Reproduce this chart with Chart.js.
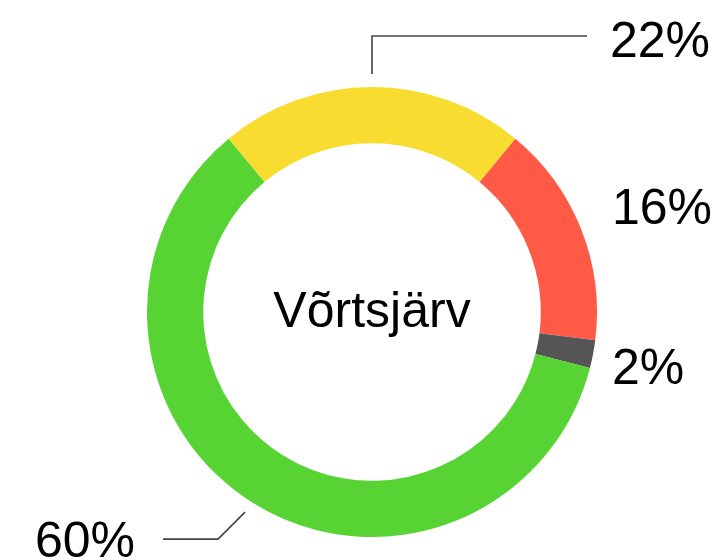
<!DOCTYPE html>
<html>
<head>
<meta charset="utf-8">
<script src="https://cdn.jsdelivr.net/npm/chart.js@4.4.1/dist/chart.umd.min.js"></script>
<style>
  html, body { margin: 0; padding: 0; background: #fff; }
  #wrap { width: 717px; height: 560px; }
</style>
</head>
<body>
<div id="wrap"><canvas id="donut" width="717" height="560"></canvas></div>
<script>
// Chart data
const centerTitle = 'Võrtsjärv';
const sliceLabels = ['22%', '16%', '2%', '60%'];
const sliceValues = [22, 16, 2, 60];
const sliceColors = ['#F8DC2F', '#FF5A45', '#555555', '#57D433'];

const labelFont = '50px "Liberation Sans", Arial, Helvetica, sans-serif';
const leaderColor = '#444444';

// draws the title in the hole and the percent labels around the ring
const ringLabels = {
    id: 'ringLabels',
    afterDraw(chart) {
        const ctx = chart.ctx;
        const meta = chart.getDatasetMeta(0);
        const first = meta.data[0];
        const cx = first.x, cy = first.y, R = first.outerRadius;

        ctx.save();
        ctx.fillStyle = '#000';
        ctx.font = labelFont;
        ctx.textAlign = 'center';
        ctx.textBaseline = 'alphabetic';
        ctx.fillText(centerTitle, cx, cy + 15);

        ctx.strokeStyle = leaderColor;
        ctx.lineWidth = 1.6;

        meta.data.forEach((arc, i) => {
            const mid = (arc.startAngle + arc.endAngle) / 2;
            const cos = Math.cos(mid), sin = Math.sin(mid);
            const text = sliceLabels[i];

            if (sin < -0.9) {
                // top: elbow up, then right
                const ax = cx + (R + 13) * cos, ay = cy + (R + 13) * sin;
                const ly = cy - R - 51;
                ctx.beginPath();
                ctx.moveTo(ax, ay);
                ctx.lineTo(ax, ly);
                ctx.lineTo(cx + R - 10, ly);
                ctx.stroke();
                ctx.textAlign = 'left';
                ctx.fillText(text, cx + R + 13, ly + 21);
            } else if (cos < 0 && sin > 0) {
                // lower left: diagonal, then left
                const ax = cx + (R + 12) * cos, ay = cy + (R + 12) * sin;
                const ex = ax - 27, ey = ay + 27;
                ctx.beginPath();
                ctx.moveTo(ax, ay);
                ctx.lineTo(ex, ey);
                ctx.lineTo(ex - 55, ey);
                ctx.stroke();
                ctx.textAlign = 'right';
                ctx.fillText(text, ex - 83, ey + 18);
            } else {
                // right side: plain text
                ctx.textAlign = 'left';
                ctx.fillText(text, cx + R + 15, cy + 287 * sin + 18);
            }
        });
        ctx.restore();
    }
};

new Chart(document.getElementById('donut'), {
    type: 'doughnut',
    data: {
        labels: sliceLabels,
        datasets: [{
            data: sliceValues,
            backgroundColor: sliceColors,
            borderWidth: 0
        }]
    },
    options: {
        responsive: false,
        animation: false,
        cutout: '75%',
        rotation: -39.6,
        layout: { padding: { top: 87, bottom: 23, left: 147, right: 120 } },
        plugins: {
            legend: { display: false },
            tooltip: { enabled: false }
        }
    },
    plugins: [ringLabels]
});
</script>
</body>
</html>
